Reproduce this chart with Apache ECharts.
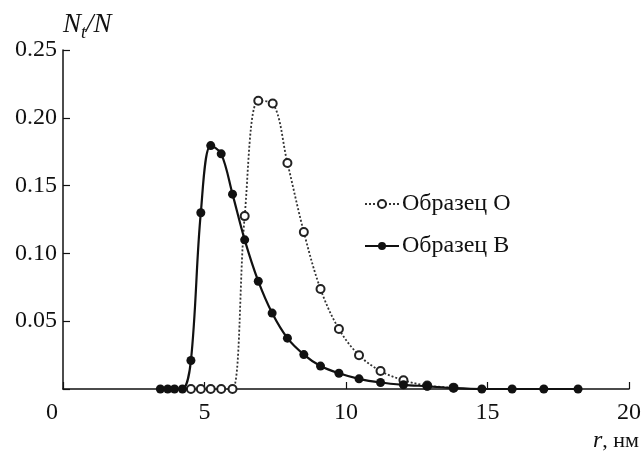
<!DOCTYPE html>
<html>
<head>
<meta charset="utf-8">
<script src="https://cdn.jsdelivr.net/npm/echarts@6/dist/echarts.min.js"></script>
<style>
html,body{margin:0;padding:0;background:#fff;}
#chart{width:644px;height:453px;}
</style>
</head>
<body>
<div id="chart"></div>
<script>
// Sample B (filled markers, solid line)
const rB = [3.44, 3.70, 3.94, 4.22, 4.52, 4.87, 5.22, 5.59, 5.99, 6.42, 6.90, 7.39, 7.93, 8.51, 9.10, 9.75, 10.46, 11.22, 12.03, 12.87, 13.80, 14.80, 15.87, 16.99, 18.20];
const valB = [0, 0, 0, 0, 0.021, 0.130, 0.1795, 0.1734, 0.1437, 0.110, 0.0795, 0.056, 0.0375, 0.0254, 0.0169, 0.0116, 0.0075, 0.0048, 0.0031, 0.0020, 0.0007, 0, 0, 0, 0];
// Sample O (open markers, dotted line)
const rO = [4.52, 4.87, 5.22, 5.59, 5.99, 6.42, 6.90, 7.41, 7.93, 8.51, 9.10, 9.75, 10.46, 11.22, 12.03, 12.87, 13.80];
const valO = [0, 0, 0, 0, 0, 0.1275, 0.2126, 0.2106, 0.1667, 0.1157, 0.0737, 0.0442, 0.0249, 0.0133, 0.0065, 0.0025, 0.0010];
const xTicks = [0, 5, 10, 15, 20];
const yTicks = ['0.05', '0.10', '0.15', '0.20', '0.25'];
const nameO = 'Образец O';
const nameB = 'Образец B';

const FONT = '"Liberation Serif", "DejaVu Serif", serif';
const pairs = (xs, ys) => xs.map((x, i) => [x, ys[i]]);

const chart = echarts.init(document.getElementById('chart'));
chart.setOption({
  animation: false,
  backgroundColor: '#fff',
  textStyle: { fontFamily: FONT, color: '#111' },
  grid: { left: 63, right: 7, top: 50, bottom: 58, containLabel: false },
  legend: {
    orient: 'vertical',
    left: 359,
    top: 187,
    itemWidth: 34,
    itemHeight: 10,
    itemGap: 18,
    textStyle: { fontFamily: FONT, fontSize: 24, color: '#111', padding: [0, 0, 0, -2] },
    data: [nameO, nameB]
  },
  xAxis: {
    type: 'value',
    min: 0, max: 20, interval: 5,
    name: '{i|r}{n|, нм}',
    nameLocation: 'end',
    nameGap: 10,
    nameTextStyle: {
      align: 'right', verticalAlign: 'top', padding: [40, 0, 0, 0],
      rich: {
        i: { fontFamily: FONT, fontSize: 24, fontStyle: 'italic', color: '#111' },
        n: { fontFamily: FONT, fontSize: 22, color: '#111' }
      }
    },
    axisLine: { lineStyle: { color: '#111', width: 1.5 } },
    axisTick: { inside: true, length: 7, lineStyle: { color: '#111', width: 1.2 } },
    axisLabel: {
      margin: 12, fontSize: 24, fontFamily: FONT, color: '#111',
      formatter: v => (xTicks.indexOf(v) === 0 ? '{z|0}' : String(v)),
      rich: { z: { fontSize: 24, fontFamily: FONT, color: '#111', padding: [0, 22, 0, 0] } }
    },
    splitLine: { show: false }
  },
  yAxis: {
    type: 'value',
    min: 0, max: 0.25, interval: 0.05,
    name: '{i|N}{s|t}{i|/N}',
    nameLocation: 'end',
    nameGap: 8,
    nameTextStyle: {
      align: 'left', padding: [0, 0, 0, 0],
      rich: {
        i: { fontFamily: FONT, fontSize: 27, fontStyle: 'italic', color: '#111' },
        s: { fontFamily: FONT, fontSize: 18, fontStyle: 'italic', color: '#111', padding: [16, 0, 0, 0] }
      }
    },
    axisLine: { show: true, lineStyle: { color: '#111', width: 1.5 } },
    axisTick: { show: true, inside: true, length: 7, lineStyle: { color: '#111', width: 1.2 } },
    axisLabel: {
      margin: 6, fontSize: 24, fontFamily: FONT, color: '#111',
      formatter: v => {
        const idx = Math.round(v / 0.05) - 1;
        return idx >= 0 && idx < yTicks.length ? yTicks[idx] : '';
      }
    },
    splitLine: { show: false }
  },
  series: [
    {
      name: nameO,
      type: 'line',
      data: pairs(rO, valO),
      smooth: 0.35,
      symbol: 'circle',
      symbolSize: 8,
      itemStyle: { color: '#fff', borderColor: '#222', borderWidth: 2 },
      lineStyle: { color: '#333', width: 1.8, type: [2, 2] },
      z: 2
    },
    {
      name: nameB,
      type: 'line',
      data: pairs(rB, valB),
      smooth: 0.35,
      symbol: 'circle',
      symbolSize: 9,
      itemStyle: { color: '#111', borderColor: '#111', borderWidth: 0 },
      lineStyle: { color: '#111', width: 2.2 },
      z: 3
    }
  ]
});
</script>
</body>
</html>
